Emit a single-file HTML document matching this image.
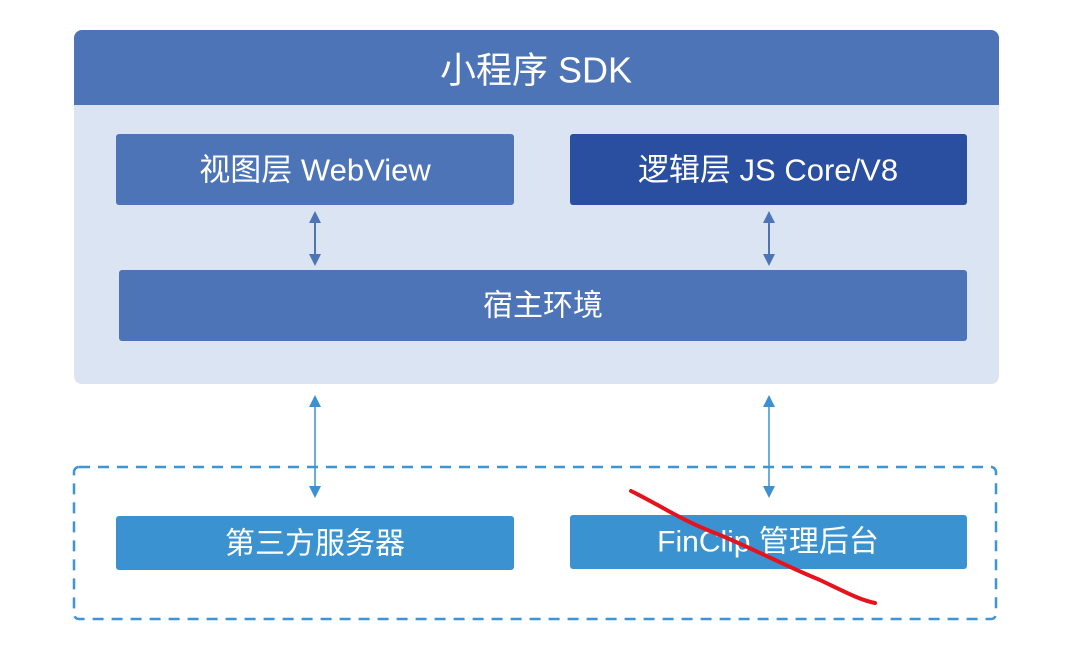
<!DOCTYPE html>
<html><head><meta charset="utf-8"><style>
body{margin:0;background:#fff;}
svg text{font-family:"Liberation Sans","Noto Sans CJK SC",sans-serif;fill:#fff;text-anchor:middle;dominant-baseline:central;}
</style></head><body>
<svg width="1075" height="650" viewBox="0 0 1075 650" xmlns="http://www.w3.org/2000/svg">
<defs>
<marker id="a1" markerWidth="12" markerHeight="12" refX="6" refY="6" orient="auto-start-reverse" markerUnits="userSpaceOnUse"><path d="M0,0 L12,6 L0,12 z" fill="#4e74b8"/></marker>
<marker id="a2" markerWidth="12" markerHeight="12" refX="6" refY="6" orient="auto-start-reverse" markerUnits="userSpaceOnUse"><path d="M0,0 L12,6 L0,12 z" fill="#3d90d2"/></marker>
</defs>
<rect x="74" y="30" width="925" height="354" rx="8" fill="#dbe4f3"/>
<path d="M74,105 V38 a8,8 0 0 1 8,-8 H991 a8,8 0 0 1 8,8 V105 z" fill="#4e74b8"/>
<text x="536" y="70" font-size="36">小程序 SDK</text>
<rect x="116" y="134" width="398" height="71" rx="3" fill="#4e74b8"/>
<text x="315" y="170" font-size="31">视图层 WebView</text>
<rect x="570" y="134" width="397" height="71" rx="3" fill="#2a4fa0"/>
<text x="768" y="170" font-size="31">逻辑层 JS Core/V8</text>
<rect x="119" y="270" width="848" height="71" rx="3" fill="#4e74b8"/>
<text x="543" y="306" font-size="30">宿主环境</text>
<line x1="315" y1="217" x2="315" y2="260" stroke="#4e74b8" stroke-width="2" marker-start="url(#a1)" marker-end="url(#a1)"/>
<line x1="769" y1="217" x2="769" y2="260" stroke="#4e74b8" stroke-width="2" marker-start="url(#a1)" marker-end="url(#a1)"/>
<line x1="315" y1="401" x2="315" y2="492" stroke="#3d90d2" stroke-width="1.5" marker-start="url(#a2)" marker-end="url(#a2)"/>
<line x1="769" y1="401" x2="769" y2="492" stroke="#3d90d2" stroke-width="1.5" marker-start="url(#a2)" marker-end="url(#a2)"/>
<rect x="74" y="467" width="922" height="152" rx="5" fill="none" stroke="#3d95d5" stroke-width="2.5" stroke-dasharray="11 8"/>
<rect x="116" y="516" width="398" height="54" rx="3" fill="#3a93d0"/>
<text x="315" y="544" font-size="30">第三方服务器</text>
<rect x="570" y="515" width="397" height="54" rx="3" fill="#3a93d0"/>
<text x="768" y="542" font-size="30">FinClip 管理后台</text>
<path d="M631,491 C660,505 680,520 720,535 C760,552 790,568 820,580 C845,592 860,600 875,603" fill="none" stroke="#e4141e" stroke-width="4" stroke-linecap="round"/>
</svg>
</body></html>
